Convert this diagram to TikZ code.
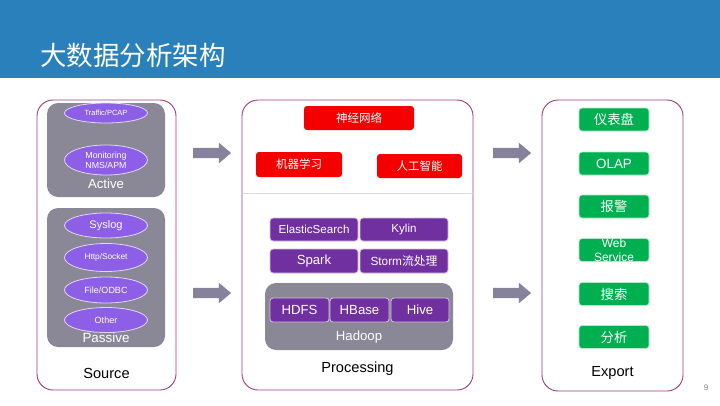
\documentclass[tikz,border=0pt]{standalone}
\usepackage{fontspec}
\setmainfont{Liberation Sans}
\newfontfamily\cjk{Noto Sans CJK SC}
\usetikzlibrary{shapes.geometric,shapes.arrows}
\newcommand{\fsz}[1]{\fontsize{#1}{#1}\selectfont}
\definecolor{bandc}{RGB}{41,128,187}
\definecolor{borderc}{RGB}{160,60,125}
\definecolor{greyc}{RGB}{138,135,150}
\definecolor{ellc}{RGB}{140,95,230}
\definecolor{purc}{RGB}{112,48,160}
\definecolor{redc}{RGB}{245,0,0}
\definecolor{grnc}{RGB}{0,176,80}
\definecolor{arrc}{RGB}{135,130,155}
\definecolor{linec}{RGB}{220,218,225}
\tikzset{
  panel/.style={draw=borderc, line width=0.9pt, rounded corners=16pt, inner sep=0pt},
  greybox/.style={fill=greyc, rounded corners=11pt, inner sep=0pt},
  ell/.style={ellipse, fill=ellc, draw=white!75!ellc, line width=0.8pt, text=white, minimum width=83pt, inner sep=0pt, align=center},
  redbox/.style={fill=redc, rounded corners=3pt, text=white, inner sep=0pt, font=\cjk\fsz{11.5}},
  purbox/.style={fill=purc, draw=white!70!purc, line width=0.8pt, rounded corners=3pt, text=white, inner sep=0pt},
  grnbox/.style={fill=grnc, draw=white!70!grnc, line width=0.8pt, rounded corners=3pt, text=white, inner sep=0pt, minimum width=70pt, minimum height=23pt},
  blockarrow/.style={single arrow, fill=arrc, minimum height=38pt, inner xsep=0pt, inner ysep=5pt, single arrow head extend=5pt, single arrow tip angle=80},
  lbl/.style={inner sep=0pt, text=white},
  plbl/.style={inner sep=0pt, text=black, font=\fsz{14.6}}
}
\begin{document}
\begin{tikzpicture}[x=1pt,y=-1pt]
\useasboundingbox (0,0) rectangle (720,405);
\fill[white] (0,0) rectangle (720,405);
% title band
\fill[bandc] (0,0) rectangle (720,78);
\node[anchor=west, inner sep=0pt, text=white, font=\cjk\fsz{26.5}] (title) at (40,55) {大数据分析架构};
% ---------- Source ----------
\node[panel, minimum width=139pt, minimum height=290pt] (src) at (106.5,245) {};
\node[greybox, minimum width=118pt, minimum height=94pt] (active) at (106,150) {};
\node[greybox, minimum width=118pt, minimum height=139pt] (passive) at (106,277.5) {};
\node[ell, minimum height=20pt, font=\fsz{7.5}] (traffic) at (106,113) {Traffic/PCAP};
\node[ell, minimum height=30pt, font=\fontsize{8.8}{10}\selectfont] (mon) at (106,160) {Monitoring\\NMS/APM};
\node[lbl, font=\fsz{13.2}] (activel) at (106,184) {Active};
\node[ell, minimum height=25pt, font=\fsz{11}] (syslog) at (106,225.5) {Syslog};
\node[ell, minimum height=28pt, font=\fsz{8.3}] (http) at (106,257.5) {Http/Socket};
\node[ell, minimum height=26pt, font=\fsz{9}] (file) at (106,290) {File/ODBC};
\node[ell, minimum height=25pt, font=\fsz{9}] (other) at (106,320) {Other};
\node[lbl, font=\fsz{13.4}] (passivel) at (106,338) {Passive};
\node[plbl] (srcl) at (106.5,373) {Source};
% ---------- arrows ----------
\node[blockarrow] (a1) at (209,153) {};
\node[blockarrow] (a2) at (209,293) {};
\node[blockarrow] (a3) at (509,153) {};
\node[blockarrow] (a4) at (509,293) {};
% ---------- Processing ----------
\node[panel, minimum width=231pt, minimum height=290pt] (proc) at (357.5,245) {};
\coordinate (divl) at (242.5,193);
\coordinate (divr) at (472.5,193);
\draw[linec, line width=0.8pt] (divl) -- (divr);
\node[redbox, minimum width=110pt, minimum height=24pt] (nn) at (359,118) {神经网络};
\node[redbox, minimum width=86pt, minimum height=25pt] (ml) at (299,164.5) {机器学习};
\node[redbox, minimum width=85pt, minimum height=24pt] (ai) at (419.5,166) {人工智能};
\node[purbox, minimum width=88pt, minimum height=23pt, font=\fsz{11.6}] (es) at (314,229.5) {ElasticSearch};
\node[purbox, minimum width=88pt, minimum height=23pt, font=\fsz{11.6}] (kylin) at (404,229.5) {Kylin};
\node[purbox, minimum width=88pt, minimum height=24pt, font=\fsz{13.2}] (spark) at (314,261) {Spark};
\node[purbox, minimum width=88pt, minimum height=24pt, font=\fsz{11.8}] (storm) at (404,261) {Storm{\cjk 流处理}};
\node[greybox, minimum width=188pt, minimum height=67pt] (hadoop) at (359,316.5) {};
\node[purbox, minimum width=59pt, minimum height=24pt, font=\fsz{13.2}] (hdfs) at (299.5,310) {HDFS};
\node[purbox, minimum width=59pt, minimum height=24pt, font=\fsz{13.2}] (hbase) at (359.5,310) {HBase};
\node[purbox, minimum width=58pt, minimum height=24pt, font=\fsz{13.2}] (hive) at (420,310) {Hive};
\node[lbl, font=\fsz{13.2}] (hadoopl) at (359,337) {Hadoop};
\node[plbl] (procl) at (357.5,369) {Processing};
% ---------- Export ----------
\node[panel, minimum width=141pt, minimum height=291pt] (exp) at (612.5,245.5) {};
\node[grnbox, font=\cjk\fsz{13.3}] (g1) at (614,119.5) {仪表盘};
\node[grnbox, font=\fsz{13.4}] (g2) at (614,163.5) {OLAP};
\node[grnbox, font=\cjk\fsz{13.3}] (g3) at (614,206.5) {报警};
\node[grnbox] (g4) at (614,250) {};
\node[lbl, font=\fontsize{12}{13.5}\selectfont, align=center] (g4t) at (614,250) {Web\\Service};
\node[grnbox, font=\cjk\fsz{13.3}] (g5) at (614,294) {搜索};
\node[grnbox, font=\cjk\fsz{13.3}] (g6) at (614,337) {分析};
\node[plbl] (expl) at (612.5,373) {Export};
\node[inner sep=0pt, text=gray, font=\fsz{8}] (pg) at (706,388) {9};
\end{tikzpicture}
\end{document}
